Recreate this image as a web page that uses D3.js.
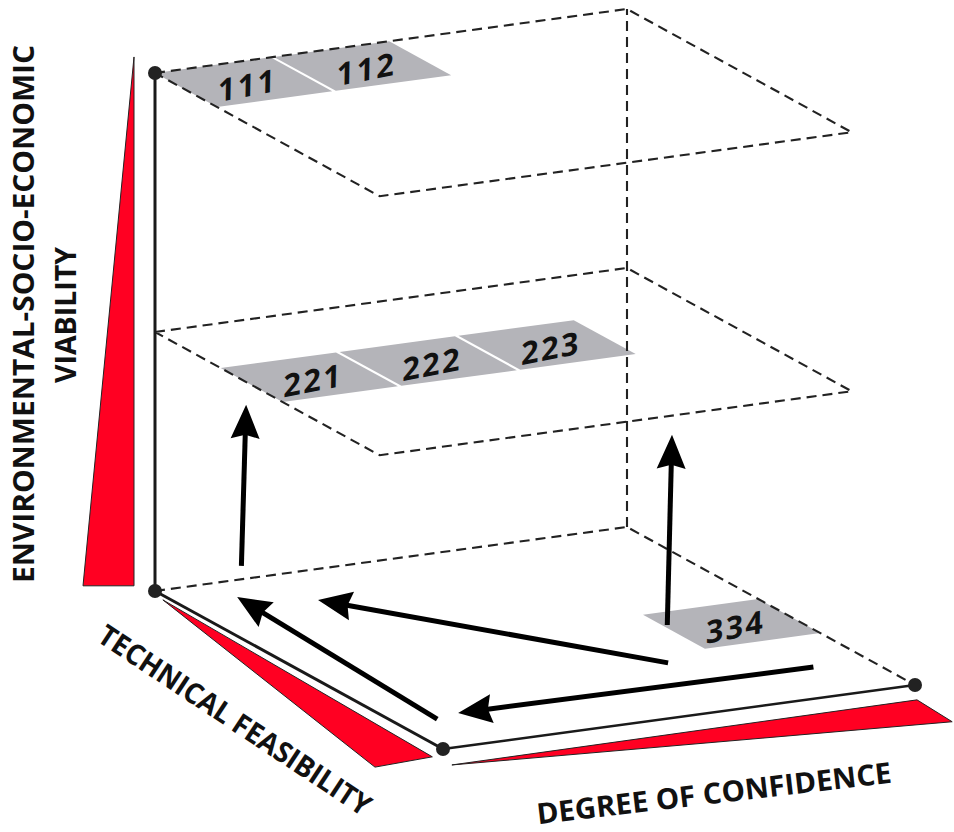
<!DOCTYPE html>
<html lang="en">
<head>
  <meta charset="UTF-8">
  <title>Viability / feasibility / confidence cube</title>
  <script src="https://cdnjs.cloudflare.com/ajax/libs/d3/7.8.5/d3.min.js"></script>
  <style>
    html, body { margin: 0; padding: 0; background: #fff; }
    svg { display: block; font-family: "Open Sans", "DejaVu Sans", sans-serif; }
  </style>
</head>
<body>
  <script>
    // --- data ---
    const levels = [1, 2, 3];          // viability levels (1 = top plane)
    const rows = [1, 2, 3];            // technical feasibility rows
    const cols = [1, 2, 3, 4];         // degree of confidence columns
    const cellCodes = ["111", "112", "221", "222", "223", "334"];
    const axisLabels = ["ENVIRONMENTAL-SOCIO-ECONOMIC", "VIABILITY", "TECHNICAL FEASIBILITY", "DEGREE OF CONFIDENCE"];
    // arrows: [from, to] as [confidence, technical, viability] in cube units
    const arrowFrom = [[0, 0.3, 0.14], [0.765, 0.525, 0], [0.083, 0.844, 0], [0.649, 0.718, 0], [0.883, 0.839, 0]];
    const arrowTo = [[0.01, 0.3, 0.45], [0.775, 0.525, 0.366], [0.121, 0.087, 0], [0.249, 0.158, 0], [0.137, 0.828, 0]];

    const width = 954, height = 832;

    const svg = d3.select('body')
      .append('svg')
      .attr('width', width)
      .attr('height', height);

    // oblique projection of the cube, one pair of scales per axis
    const origin = [155, 591];
    const confX = d3.scaleLinear().domain([0, 1]).range([0, 472]);
    const confY = d3.scaleLinear().domain([0, 1]).range([0, -64]);
    const techX = d3.scaleLinear().domain([0, 1]).range([0, 288]);
    const techY = d3.scaleLinear().domain([0, 1]).range([0, 158]);
    const viabY = d3.scaleLinear().domain([0, 1]).range([0, -518]);

    function P(a, b, c) {
      return [origin[0] + confX(a) + techX(b), origin[1] + confY(a) + techY(b) + viabY(c)];
    }

    // grid scales
    const levelScale = d3.scalePoint().domain([3, 2, 1]).range([0, 1]);
    const colScale = d3.scaleBand().domain(cols).range([0, 1]).paddingInner(0.03);
    const rowScale = d3.scaleBand().domain(rows).range([0, 0.671]).paddingInner(0.057);
    const planeDepth = lvl => lvl === 3 ? 1 : 0.78;

    const line = d3.line();
    const RED = '#ff0022';

    // point offset perpendicular to an axis (to its left/below), in pixels
    function offsetPt(p, dir, off) {
      const len = Math.hypot(dir[0], dir[1]);
      const n = [-dir[1] / len, dir[0] / len];
      return [p[0] + n[0] * off, p[1] + n[1] * off];
    }

    //red wedges beside the three axes
    const vDir = [0, 1], tDir = [techX(1), techY(1)], cDir = [confX(1), confY(1)];
    const wedges = [
      [offsetPt(P(0, 0, 1.031), vDir, 21), offsetPt(P(0, 0, 0.01), vDir, 21), offsetPt(P(0, 0, 0.01), vDir, 72)],
      [offsetPt(P(0, 0.034, 0), tDir, 4), offsetPt(P(0, 0.983, 0), tDir, 12), offsetPt(P(0, 0.845, 0), tDir, 48.6)],
      [offsetPt(P(0.014, 1, 0), cDir, 17), offsetPt(P(1, 1, 0), cDir, 15), offsetPt(P(1.067, 1, 0), cDir, 41.4)]
    ];
    svg.append('g').selectAll('path')
      .data(wedges)
      .join('path')
      .attr('d', d => line(d) + 'Z')
      .attr('fill', RED)
      .attr('stroke', '#222')
      .attr('stroke-width', 1)
      .attr('stroke-linejoin', 'miter');

    // grey cells
    const cells = cellCodes.map(code => {
      const [lvl, row, col] = code.split('').map(Number);
      const c = levelScale(lvl);
      const a0 = colScale(col), a1 = a0 + colScale.bandwidth();
      const b0 = rowScale(row), b1 = b0 + rowScale.bandwidth();
      return {
        code: code,
        pts: [P(a0, b0, c), P(a1, b0, c), P(a1, b1, c), P(a0, b1, c)],
        center: P((a0 + a1) / 2, (b0 + b1) / 2, c)
      };
    });

    const cellG = svg.append('g');
    cellG.selectAll('path')
      .data(cells)
      .join('path')
      .attr('d', d => line(d.pts) + 'Z')
      .attr('fill', '#b4b4b9');

    cellG.selectAll('text')
      .data(cells)
      .join('text')
      .attr('transform', d => `translate(${d.center[0] + 4},${d.center[1] + 3}) rotate(-11) skewX(-12)`)
      .attr('text-anchor', 'middle')
      .attr('dy', '0.36em')
      .attr('font-size', 31)
      .attr('font-weight', 700)
      .attr('letter-spacing', 2.5)
      .attr('fill', '#111')
      .text(d => d.code);

    // dashed planes and back edge
    const dashed = [];
    levels.filter(l => l !== 3).forEach(l => {
      const c = levelScale(l), d = planeDepth(l);
      dashed.push([P(0, 0, c), P(1, 0, c), P(1, d, c), P(0, d, c), P(0, 0, c)]);
    });
    dashed.push([P(0, 0, 0), P(1, 0, 0), P(1, planeDepth(3), 0)]);
    dashed.push([P(1, 0, 0), P(1, 0, 1)]);

    svg.append('g').selectAll('path')
      .data(dashed)
      .join('path')
      .attr('d', d => line(d))
      .attr('fill', 'none')
      .attr('stroke', '#222')
      .attr('stroke-width', 2.1)
      .attr('stroke-dasharray', '10,6');

    // solid axes
    const axes = [
      { pts: [P(0, 0, 0), P(0, 0, 1)], w: 3 },
      { pts: [P(0, 0, 0), P(0, 1, 0)], w: 3 },
      { pts: [P(0, 1, 0), P(1, 1, 0)], w: 2.5 }
    ];
    svg.append('g').selectAll('path')
      .data(axes)
      .join('path')
      .attr('d', d => line(d.pts))
      .attr('stroke', '#1a1a1a')
      .attr('stroke-width', d => d.w);

    svg.append('g').selectAll('circle')
      .data([P(0, 0, 1), P(0, 0, 0), P(0, 1, 0), P(1, 1, 0)])
      .join('circle')
      .attr('cx', d => d[0])
      .attr('cy', d => d[1])
      .attr('r', 7)
      .attr('fill', '#222');

    // arrows
    const arrowG = svg.append('g');
    arrowFrom.forEach((f, i) => {
      const s = P(...f), t = P(...arrowTo[i]);
      const len = Math.hypot(t[0] - s[0], t[1] - s[1]);
      const u = [(t[0] - s[0]) / len, (t[1] - s[1]) / len];
      const n = [-u[1], u[0]];
      const L = 34, W = 14.5, notch = 4;
      const base = [t[0] - u[0] * L, t[1] - u[1] * L];
      arrowG.append('path')
        .attr('d', line([s, [t[0] - u[0] * (L - 6), t[1] - u[1] * (L - 6)]]))
        .attr('stroke', '#000')
        .attr('stroke-width', 5);
      arrowG.append('path')
        .attr('d', line([
          t,
          [base[0] + n[0] * W, base[1] + n[1] * W],
          [t[0] - u[0] * (L - notch), t[1] - u[1] * (L - notch)],
          [base[0] - n[0] * W, base[1] - n[1] * W]
        ]) + 'Z')
        .attr('fill', '#000');
    });

    // axis titles
    const titles = [
      { text: axisLabels[0], x: 24, y: 314, rot: -90, len: 538 },
      { text: axisLabels[1], x: 66, y: 315, rot: -90, len: 136 },
      { text: axisLabels[2], x: 235, y: 720, rot: 33.5, len: 320 },
      { text: axisLabels[3], x: 714, y: 793, rot: -6.7, len: 357 }
    ];
    svg.append('g').selectAll('text')
      .data(titles)
      .join('text')
      .attr('transform', d => `translate(${d.x},${d.y}) rotate(${d.rot})`)
      .attr('text-anchor', 'middle')
      .attr('dy', '0.36em')
      .attr('font-size', 29)
      .attr('font-weight', 700)
      .attr('fill', '#111')
      .attr('textLength', d => d.len)
      .attr('lengthAdjust', 'spacingAndGlyphs')
      .text(d => d.text);
  </script>
</body>
</html>
